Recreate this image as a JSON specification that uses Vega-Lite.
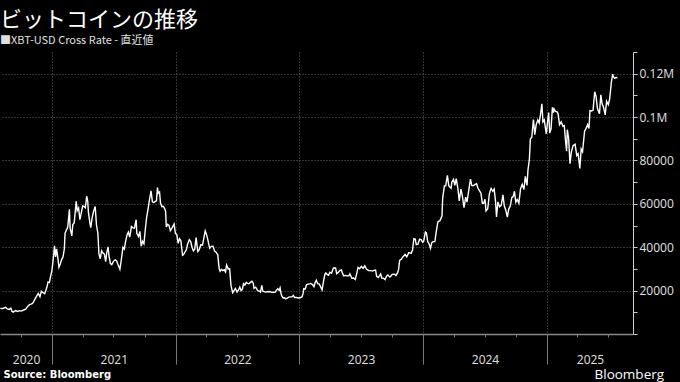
{
  "$schema": "https://vega.github.io/schema/vega-lite/v6.json",
  "width": 633,
  "height": 282,
  "autosize": "none",
  "padding": {"left": 0, "top": 52, "right": 47, "bottom": 48},
  "background": "black",
  "config": {"view": {"stroke": null}},
  "title": {
    "text": "ビットコインの推移",
    "subtitle": "■XBT-USD Cross Rate - 直近値",
    "anchor": "start",
    "frame": "group",
    "font": "Noto Sans CJK JP",
    "fontSize": 22,
    "fontWeight": "normal",
    "color": "white",
    "subtitleFont": "Noto Sans CJK JP",
    "subtitleFontSize": 11,
    "subtitleColor": "#e0e0e0",
    "subtitlePadding": 3,
    "offset": -1
  },
  "data": {
    "values": [
      {"d":"2020-08-01","v":11800},{"d":"2020-08-05","v":11750},{"d":"2020-08-10","v":11880},{"d":"2020-08-17","v":12300},{"d":"2020-08-21","v":11530},{"d":"2020-08-27","v":11330},{"d":"2020-09-01","v":11950},{"d":"2020-09-04","v":10500},{"d":"2020-09-08","v":10100},{"d":"2020-09-15","v":10800},{"d":"2020-09-21","v":10420},{"d":"2020-09-27","v":10780},{"d":"2020-10-02","v":10550},{"d":"2020-10-09","v":11060},{"d":"2020-10-15","v":11420},{"d":"2020-10-21","v":12820},{"d":"2020-10-27","v":13650},{"d":"2020-10-31","v":13800},{"d":"2020-11-04","v":14130},{"d":"2020-11-07","v":14830},{"d":"2020-11-12","v":16300},{"d":"2020-11-17","v":17650},{"d":"2020-11-21","v":18680},{"d":"2020-11-26","v":17150},{"d":"2020-11-30","v":19700},{"d":"2020-12-04","v":19150},{"d":"2020-12-10","v":18550},{"d":"2020-12-16","v":21300},{"d":"2020-12-20","v":24000},{"d":"2020-12-24","v":23700},{"d":"2020-12-27","v":26300},{"d":"2020-12-31","v":29000},
      {"d":"2021-01-03","v":32800},{"d":"2021-01-08","v":40600},{"d":"2021-01-11","v":35500},{"d":"2021-01-14","v":39200},{"d":"2021-01-17","v":36000},{"d":"2021-01-21","v":30800},{"d":"2021-01-25","v":32300},{"d":"2021-01-29","v":34300},{"d":"2021-02-02","v":35500},{"d":"2021-02-06","v":39200},{"d":"2021-02-08","v":46400},{"d":"2021-02-12","v":47900},{"d":"2021-02-16","v":49200},{"d":"2021-02-21","v":57500},{"d":"2021-02-23","v":48800},{"d":"2021-02-28","v":45200},{"d":"2021-03-03","v":50500},{"d":"2021-03-07","v":51200},{"d":"2021-03-10","v":56000},{"d":"2021-03-13","v":61200},{"d":"2021-03-16","v":56800},{"d":"2021-03-20","v":58100},{"d":"2021-03-24","v":52700},{"d":"2021-03-28","v":55800},{"d":"2021-04-01","v":59000},{"d":"2021-04-05","v":58800},{"d":"2021-04-09","v":58200},{"d":"2021-04-13","v":63500},{"d":"2021-04-16","v":61300},{"d":"2021-04-18","v":56200},{"d":"2021-04-22","v":51700},{"d":"2021-04-25","v":49000},{"d":"2021-04-29","v":53500},{"d":"2021-05-03","v":56400},{"d":"2021-05-08","v":58800},{"d":"2021-05-12","v":50000},{"d":"2021-05-16","v":46500},{"d":"2021-05-19","v":37000},{"d":"2021-05-23","v":34700},{"d":"2021-05-27","v":38400},{"d":"2021-05-31","v":37300},{"d":"2021-06-04","v":36900},{"d":"2021-06-08","v":33400},{"d":"2021-06-11","v":37300},{"d":"2021-06-15","v":40200},{"d":"2021-06-18","v":35800},{"d":"2021-06-22","v":32500},{"d":"2021-06-26","v":32000},{"d":"2021-07-01","v":33500},{"d":"2021-07-06","v":34200},{"d":"2021-07-10","v":33800},{"d":"2021-07-15","v":31800},{"d":"2021-07-20","v":29800},{"d":"2021-07-24","v":34000},{"d":"2021-07-29","v":40000},{"d":"2021-08-02","v":39200},{"d":"2021-08-06","v":42800},{"d":"2021-08-10","v":45600},{"d":"2021-08-14","v":47000},{"d":"2021-08-18","v":44700},{"d":"2021-08-23","v":49500},{"d":"2021-08-28","v":48900},{"d":"2021-09-01","v":48800},{"d":"2021-09-06","v":52700},{"d":"2021-09-08","v":46400},{"d":"2021-09-13","v":44900},{"d":"2021-09-17","v":47300},{"d":"2021-09-21","v":40500},{"d":"2021-09-25","v":42700},{"d":"2021-09-29","v":41600},{"d":"2021-10-03","v":48200},{"d":"2021-10-07","v":53800},{"d":"2021-10-11","v":57400},{"d":"2021-10-15","v":61600},{"d":"2021-10-20","v":66000},{"d":"2021-10-24","v":60900},{"d":"2021-10-28","v":60600},{"d":"2021-11-01","v":61000},{"d":"2021-11-05","v":61500},{"d":"2021-11-08","v":67500},{"d":"2021-11-10","v":64900},{"d":"2021-11-14","v":65500},{"d":"2021-11-17","v":60400},{"d":"2021-11-21","v":58700},{"d":"2021-11-25","v":58900},{"d":"2021-11-29","v":57800},{"d":"2021-12-02","v":56500},{"d":"2021-12-04","v":49300},{"d":"2021-12-08","v":50600},{"d":"2021-12-12","v":50100},{"d":"2021-12-16","v":47600},{"d":"2021-12-21","v":48900},{"d":"2021-12-27","v":50700},{"d":"2021-12-31","v":46300},
      {"d":"2022-01-04","v":45900},{"d":"2022-01-08","v":41800},{"d":"2022-01-12","v":43900},{"d":"2022-01-16","v":43100},{"d":"2022-01-21","v":36300},{"d":"2022-01-24","v":36600},{"d":"2022-01-28","v":37700},{"d":"2022-02-01","v":38700},{"d":"2022-02-05","v":41500},{"d":"2022-02-10","v":43500},{"d":"2022-02-14","v":42600},{"d":"2022-02-18","v":40000},{"d":"2022-02-22","v":38300},{"d":"2022-02-26","v":39100},{"d":"2022-03-02","v":44400},{"d":"2022-03-07","v":38000},{"d":"2022-03-11","v":38800},{"d":"2022-03-16","v":41100},{"d":"2022-03-21","v":41000},{"d":"2022-03-25","v":44300},{"d":"2022-03-29","v":47500},{"d":"2022-04-02","v":45800},{"d":"2022-04-06","v":43200},{"d":"2022-04-11","v":39500},{"d":"2022-04-16","v":40400},{"d":"2022-04-21","v":40500},{"d":"2022-04-26","v":38100},{"d":"2022-04-30","v":37700},{"d":"2022-05-05","v":36500},{"d":"2022-05-09","v":30200},{"d":"2022-05-12","v":28900},{"d":"2022-05-16","v":29800},{"d":"2022-05-20","v":29200},{"d":"2022-05-24","v":29600},{"d":"2022-05-28","v":28600},{"d":"2022-05-31","v":31800},{"d":"2022-06-05","v":29900},{"d":"2022-06-09","v":30100},{"d":"2022-06-13","v":22400},{"d":"2022-06-18","v":19000},{"d":"2022-06-22","v":20000},{"d":"2022-06-26","v":21000},{"d":"2022-07-01","v":19300},{"d":"2022-07-05","v":20200},{"d":"2022-07-09","v":21600},{"d":"2022-07-13","v":20000},{"d":"2022-07-17","v":20800},{"d":"2022-07-20","v":23200},{"d":"2022-07-24","v":22600},{"d":"2022-07-28","v":23800},{"d":"2022-08-01","v":23300},{"d":"2022-08-05","v":23200},{"d":"2022-08-10","v":23900},{"d":"2022-08-14","v":24300},{"d":"2022-08-18","v":23300},{"d":"2022-08-20","v":21100},{"d":"2022-08-25","v":21600},{"d":"2022-08-31","v":20000},{"d":"2022-09-05","v":19800},{"d":"2022-09-08","v":19300},{"d":"2022-09-12","v":22400},{"d":"2022-09-15","v":19700},{"d":"2022-09-19","v":19500},{"d":"2022-09-23","v":19300},{"d":"2022-09-28","v":19500},{"d":"2022-10-03","v":19600},{"d":"2022-10-07","v":19500},{"d":"2022-10-12","v":19100},{"d":"2022-10-16","v":19300},{"d":"2022-10-21","v":19200},{"d":"2022-10-25","v":20100},{"d":"2022-10-29","v":20800},{"d":"2022-11-02","v":20200},{"d":"2022-11-05","v":21300},{"d":"2022-11-08","v":18500},{"d":"2022-11-10","v":17600},{"d":"2022-11-14","v":16600},{"d":"2022-11-18","v":16700},{"d":"2022-11-22","v":16200},{"d":"2022-11-26","v":16500},{"d":"2022-12-01","v":17000},{"d":"2022-12-05","v":17100},{"d":"2022-12-10","v":17100},{"d":"2022-12-14","v":17800},{"d":"2022-12-18","v":16800},{"d":"2022-12-23","v":16800},{"d":"2022-12-29","v":16600},
      {"d":"2023-01-05","v":16800},{"d":"2023-01-09","v":17200},{"d":"2023-01-12","v":18800},{"d":"2023-01-14","v":20900},{"d":"2023-01-18","v":20700},{"d":"2023-01-22","v":22700},{"d":"2023-01-26","v":23000},{"d":"2023-01-31","v":23100},{"d":"2023-02-03","v":23300},{"d":"2023-02-08","v":22900},{"d":"2023-02-13","v":21800},{"d":"2023-02-16","v":23500},{"d":"2023-02-20","v":24800},{"d":"2023-02-24","v":23200},{"d":"2023-02-28","v":23100},{"d":"2023-03-03","v":22300},{"d":"2023-03-09","v":20300},{"d":"2023-03-13","v":24100},{"d":"2023-03-17","v":27400},{"d":"2023-03-20","v":28200},{"d":"2023-03-24","v":27500},{"d":"2023-03-28","v":27100},{"d":"2023-04-01","v":28500},{"d":"2023-04-06","v":28000},{"d":"2023-04-11","v":30300},{"d":"2023-04-14","v":30500},{"d":"2023-04-18","v":30400},{"d":"2023-04-21","v":27800},{"d":"2023-04-26","v":28400},{"d":"2023-04-30","v":29200},{"d":"2023-05-05","v":29500},{"d":"2023-05-09","v":27700},{"d":"2023-05-12","v":26800},{"d":"2023-05-16","v":27000},{"d":"2023-05-22","v":26800},{"d":"2023-05-27","v":26800},{"d":"2023-05-30","v":27700},{"d":"2023-06-05","v":25700},{"d":"2023-06-10","v":25800},{"d":"2023-06-15","v":25100},{"d":"2023-06-20","v":28300},{"d":"2023-06-23","v":30700},{"d":"2023-06-28","v":30100},{"d":"2023-07-03","v":31200},{"d":"2023-07-08","v":30300},{"d":"2023-07-13","v":31400},{"d":"2023-07-18","v":29900},{"d":"2023-07-24","v":29200},{"d":"2023-07-31","v":29200},{"d":"2023-08-05","v":29000},{"d":"2023-08-10","v":29400},{"d":"2023-08-14","v":29400},{"d":"2023-08-17","v":26600},{"d":"2023-08-22","v":26000},{"d":"2023-08-29","v":27700},{"d":"2023-09-01","v":25800},{"d":"2023-09-06","v":25700},{"d":"2023-09-11","v":25100},{"d":"2023-09-15","v":26600},{"d":"2023-09-19","v":27200},{"d":"2023-09-25","v":26300},{"d":"2023-09-30","v":27000},{"d":"2023-10-02","v":27500},{"d":"2023-10-09","v":27600},{"d":"2023-10-13","v":26900},{"d":"2023-10-18","v":28300},{"d":"2023-10-21","v":29900},{"d":"2023-10-24","v":33900},{"d":"2023-10-29","v":34500},{"d":"2023-11-02","v":35400},{"d":"2023-11-09","v":36700},{"d":"2023-11-14","v":35600},{"d":"2023-11-20","v":37500},{"d":"2023-11-27","v":37200},{"d":"2023-12-01","v":38700},{"d":"2023-12-05","v":44000},{"d":"2023-12-09","v":43800},{"d":"2023-12-12","v":41200},{"d":"2023-12-17","v":41400},{"d":"2023-12-22","v":43700},{"d":"2023-12-27","v":43400},{"d":"2023-12-31","v":42300},
      {"d":"2024-01-03","v":42800},{"d":"2024-01-08","v":47000},{"d":"2024-01-11","v":46600},{"d":"2024-01-15","v":42500},{"d":"2024-01-19","v":41600},{"d":"2024-01-23","v":39500},{"d":"2024-01-27","v":42100},{"d":"2024-01-31","v":42600},{"d":"2024-02-05","v":42600},{"d":"2024-02-09","v":47100},{"d":"2024-02-14","v":51800},{"d":"2024-02-20","v":52200},{"d":"2024-02-26","v":54500},{"d":"2024-02-28","v":62500},{"d":"2024-03-04","v":68300},{"d":"2024-03-08","v":68300},{"d":"2024-03-13","v":73100},{"d":"2024-03-17","v":68400},{"d":"2024-03-20","v":67800},{"d":"2024-03-24","v":67200},{"d":"2024-03-26","v":70000},{"d":"2024-03-31","v":71300},{"d":"2024-04-04","v":68500},{"d":"2024-04-08","v":71600},{"d":"2024-04-13","v":67000},{"d":"2024-04-17","v":61300},{"d":"2024-04-22","v":66800},{"d":"2024-04-26","v":63800},{"d":"2024-05-01","v":58200},{"d":"2024-05-06","v":63100},{"d":"2024-05-10","v":60800},{"d":"2024-05-15","v":66200},{"d":"2024-05-20","v":71400},{"d":"2024-05-24","v":68500},{"d":"2024-05-28","v":68300},{"d":"2024-06-03","v":69000},{"d":"2024-06-07","v":69300},{"d":"2024-06-11","v":67300},{"d":"2024-06-15","v":66200},{"d":"2024-06-20","v":65000},{"d":"2024-06-24","v":60300},{"d":"2024-06-28","v":60300},{"d":"2024-07-02","v":62100},{"d":"2024-07-05","v":56700},{"d":"2024-07-10","v":57700},{"d":"2024-07-15","v":64700},{"d":"2024-07-20","v":67100},{"d":"2024-07-25","v":65800},{"d":"2024-07-29","v":66800},{"d":"2024-08-02","v":61400},{"d":"2024-08-05","v":54000},{"d":"2024-08-09","v":60900},{"d":"2024-08-14","v":58700},{"d":"2024-08-19","v":59400},{"d":"2024-08-24","v":64100},{"d":"2024-08-28","v":59000},{"d":"2024-09-01","v":57300},{"d":"2024-09-06","v":53900},{"d":"2024-09-10","v":57600},{"d":"2024-09-15","v":59100},{"d":"2024-09-19","v":62900},{"d":"2024-09-23","v":63300},{"d":"2024-09-27","v":65800},{"d":"2024-10-01","v":60800},{"d":"2024-10-05","v":62000},{"d":"2024-10-10","v":60300},{"d":"2024-10-15","v":67000},{"d":"2024-10-20","v":69000},{"d":"2024-10-25","v":66600},{"d":"2024-10-29","v":72700},{"d":"2024-11-03","v":68500},{"d":"2024-11-06","v":75800},{"d":"2024-11-10","v":80400},{"d":"2024-11-13","v":90000},{"d":"2024-11-17","v":90600},{"d":"2024-11-22","v":98900},{"d":"2024-11-26","v":91900},{"d":"2024-11-30","v":96400},{"d":"2024-12-05","v":98700},{"d":"2024-12-09","v":97300},{"d":"2024-12-13","v":101400},{"d":"2024-12-17","v":106100},{"d":"2024-12-20","v":97800},{"d":"2024-12-24","v":98700},{"d":"2024-12-28","v":94300},{"d":"2024-12-30","v":92300},
      {"d":"2025-01-03","v":98100},{"d":"2025-01-06","v":102100},{"d":"2025-01-09","v":92600},{"d":"2025-01-13","v":94500},{"d":"2025-01-17","v":104500},{"d":"2025-01-20","v":102000},{"d":"2025-01-22","v":103700},{"d":"2025-01-26","v":102600},{"d":"2025-01-31","v":102400},{"d":"2025-02-03","v":101400},{"d":"2025-02-07","v":96500},{"d":"2025-02-12","v":97800},{"d":"2025-02-17","v":95800},{"d":"2025-02-21","v":96100},{"d":"2025-02-25","v":88700},{"d":"2025-02-28","v":84300},{"d":"2025-03-02","v":94200},{"d":"2025-03-06","v":90000},{"d":"2025-03-10","v":78500},{"d":"2025-03-14","v":84000},{"d":"2025-03-19","v":86800},{"d":"2025-03-25","v":87500},{"d":"2025-03-30","v":82300},{"d":"2025-04-03","v":83100},{"d":"2025-04-08","v":76300},{"d":"2025-04-12","v":85300},{"d":"2025-04-16","v":84000},{"d":"2025-04-22","v":93500},{"d":"2025-04-26","v":94700},{"d":"2025-05-01","v":96500},{"d":"2025-05-05","v":94700},{"d":"2025-05-08","v":103000},{"d":"2025-05-12","v":102800},{"d":"2025-05-17","v":103100},{"d":"2025-05-22","v":111700},{"d":"2025-05-26","v":109400},{"d":"2025-05-30","v":103900},{"d":"2025-06-05","v":101500},{"d":"2025-06-09","v":110300},{"d":"2025-06-13","v":106000},{"d":"2025-06-17","v":104500},{"d":"2025-06-22","v":101000},{"d":"2025-06-26","v":107300},{"d":"2025-07-01","v":105700},{"d":"2025-07-05","v":108200},{"d":"2025-07-10","v":116000},{"d":"2025-07-14","v":119800},{"d":"2025-07-16","v":118600},{"d":"2025-07-20","v":117900},{"d":"2025-07-24","v":118300},{"d":"2025-07-28","v":118000}
    ]
  },
  "mark": {"type": "line", "color": "white", "strokeWidth": 1.4, "strokeJoin": "miter"},
  "encoding": {
    "x": {
      "field": "d",
      "type": "temporal",
      "scale": {
        "type": "utc",
        "domain": [{"year": 2020, "month": 7, "date": 31, "utc": true}, {"year": 2025, "month": 9, "date": 12, "utc": true}]
      },
      "axis": {
        "orient": "bottom",
        "values": [
          {"year": 2020, "month": 10, "date": 1, "utc": true},
          {"year": 2020, "month": 10, "date": 16, "utc": true},
          {"year": 2021, "month": 1, "date": 1, "utc": true},
          {"year": 2021, "month": 4, "date": 1, "utc": true},
          {"year": 2021, "month": 7, "date": 1, "utc": true},
          {"year": 2021, "month": 7, "date": 2, "utc": true},
          {"year": 2021, "month": 10, "date": 1, "utc": true},
          {"year": 2022, "month": 1, "date": 1, "utc": true},
          {"year": 2022, "month": 4, "date": 1, "utc": true},
          {"year": 2022, "month": 7, "date": 1, "utc": true},
          {"year": 2022, "month": 7, "date": 2, "utc": true},
          {"year": 2022, "month": 10, "date": 1, "utc": true},
          {"year": 2023, "month": 1, "date": 1, "utc": true},
          {"year": 2023, "month": 4, "date": 1, "utc": true},
          {"year": 2023, "month": 7, "date": 1, "utc": true},
          {"year": 2023, "month": 7, "date": 2, "utc": true},
          {"year": 2023, "month": 10, "date": 1, "utc": true},
          {"year": 2024, "month": 1, "date": 1, "utc": true},
          {"year": 2024, "month": 4, "date": 1, "utc": true},
          {"year": 2024, "month": 7, "date": 1, "utc": true},
          {"year": 2024, "month": 7, "date": 2, "utc": true},
          {"year": 2024, "month": 10, "date": 1, "utc": true},
          {"year": 2025, "month": 1, "date": 1, "utc": true},
          {"year": 2025, "month": 4, "date": 1, "utc": true},
          {"year": 2025, "month": 5, "date": 8, "utc": true},
          {"year": 2025, "month": 7, "date": 1, "utc": true}
        ],
        "labelExpr": "utcdate(datum.value) !== 1 ? utcFormat(datum.value, '%Y') : ''",
        "labelOverlap": false,
        "labelFlush": false,
        "labelBound": false,
        "labelFont": "Open Sans",
        "labelFontSize": 12,
        "labelColor": "#e0e0e0",
        "labelPadding": 17,
        "ticks": true,
        "tickColor": "#777",
        "tickWidth": 1,
        "tickSize": {"condition": {"test": "utcmonth(datum.value) === 0", "value": 30}, "value": 3},
        "tickOpacity": {"condition": {"test": "utcdate(datum.value) !== 1", "value": 0}, "value": 1},
        "grid": true,
        "gridColor": "#666",
        "gridDash": [1, 2],
        "gridWidth": 1,
        "gridOpacity": {"condition": {"test": "utcmonth(datum.value) === 0 && utcdate(datum.value) === 1", "value": 1}, "value": 0},
        "domain": true,
        "domainColor": "#888",
        "domainWidth": 1.5,
        "title": "Source: Bloomberg",
        "titleFont": "DejaVu Sans",
        "titleFontSize": 10,
        "titleFontWeight": "bold",
        "titleColor": "white",
        "titleAnchor": "start",
        "titleAlign": "left",
        "titleBaseline": "alphabetic",
        "titleX": 3,
        "titleY": 43
      }
    },
    "y": {
      "field": "v",
      "type": "quantitative",
      "scale": {"domain": [0, 130000], "nice": false, "zero": true},
      "axis": {
        "orient": "right",
        "values": [0, 10000, 20000, 30000, 40000, 50000, 60000, 70000, 80000, 90000, 100000, 110000, 120000, 130000],
        "labelExpr": "datum.value > 0 && datum.value % 20000 === 0 ? (datum.value >= 100000 ? (datum.value / 1000000) + 'M' : '' + datum.value) : ''",
        "labelOverlap": false,
        "labelFlush": false,
        "labelBound": false,
        "labelFont": "Open Sans",
        "labelFontSize": 12,
        "labelColor": "#e0e0e0",
        "labelPadding": 2,
        "tickSize": 4,
        "tickColor": "#ccc",
        "domainColor": "#ccc",
        "domainWidth": 1,
        "grid": true,
        "gridColor": "#666",
        "gridDash": [1, 2],
        "gridOpacity": {"condition": {"test": "datum.value > 0 && datum.value % 20000 === 0", "value": 1}, "value": 0},
        "title": "Bloomberg",
        "titleAngle": 0,
        "titleX": -39,
        "titleY": 326,
        "titleAlign": "left",
        "titleBaseline": "alphabetic",
        "titleColor": "white",
        "titleFont": "Open Sans",
        "titleFontSize": 13.5,
        "titleFontWeight": "normal"
      }
    }
  }
}
